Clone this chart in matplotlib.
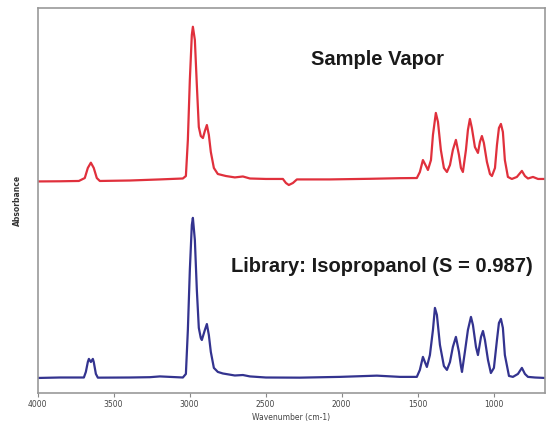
import matplotlib
matplotlib.use("Agg")
import matplotlib.pyplot as plt

# Sample vapor spectrum (red)
sample_wn = [4000, 3853, 3728, 3689, 3669, 3649, 3630, 3610, 3590, 3393,
             3195, 3044, 3024, 3011, 2998, 2985, 2978, 2965, 2952, 2939,
             2926, 2912, 2899, 2886, 2873, 2860, 2840, 2814, 2761, 2702,
             2649, 2603, 2498, 2386, 2366, 2347, 2320, 2294, 2077, 1814,
             1616, 1505, 1485, 1465, 1445, 1432, 1412, 1399, 1380, 1366,
             1347, 1327, 1307, 1287, 1268, 1248, 1228, 1215, 1202, 1182,
             1169, 1156, 1143, 1123, 1103, 1090, 1077, 1064, 1044, 1024,
             1011, 991, 978, 965, 952, 939, 926, 906, 880, 847,
             814, 794, 774, 741, 708, 662]
sample_abs = [-0.003, -0.002, 0, 0.019, 0.084, 0.118, 0.084, 0.019, 0, 0.003,
              0.010, 0.016, 0.032, 0.265, 0.652, 0.942, 0.995, 0.910, 0.619, 0.348,
              0.290, 0.277, 0.323, 0.361, 0.297, 0.187, 0.084, 0.045, 0.032, 0.023,
              0.029, 0.016, 0.013, 0.013, -0.013, -0.026, -0.013, 0.010, 0.010, 0.014,
              0.018, 0.019, 0.058, 0.135, 0.097, 0.071, 0.135, 0.297, 0.439, 0.381,
              0.200, 0.084, 0.058, 0.103, 0.200, 0.265, 0.168, 0.084, 0.058, 0.200,
              0.329, 0.400, 0.342, 0.219, 0.181, 0.252, 0.290, 0.245, 0.123, 0.045,
              0.032, 0.084, 0.232, 0.342, 0.368, 0.316, 0.135, 0.026, 0.013, 0.026,
              0.065, 0.032, 0.016, 0.026, 0.013, 0.013]

# Library spectrum: isopropanol (blue)
library_wn = [4000, 3853, 3695, 3682, 3669, 3662, 3649, 3636, 3630, 3616,
              3603, 3393, 3261, 3195, 3044, 3024, 3011, 2998, 2985, 2978,
              2965, 2952, 2939, 2926, 2919, 2899, 2886, 2873, 2860, 2840,
              2814, 2781, 2702, 2649, 2603, 2498, 2274, 2011, 1768, 1616,
              1505, 1485, 1465, 1452, 1439, 1419, 1399, 1386, 1373, 1353,
              1327, 1307, 1287, 1268, 1248, 1228, 1215, 1208, 1189, 1169,
              1149, 1136, 1116, 1103, 1083, 1070, 1057, 1037, 1018, 998,
              978, 965, 952, 939, 926, 899, 873, 840, 814, 794,
              774, 728, 662]
library_abs = [-0.002, 0.001, 0.001, 0.037, 0.101, 0.121, 0.101, 0.121, 0.101, 0.024,
               0, 0.001, 0.003, 0.008, 0.001, 0.024, 0.308, 0.695, 0.985, 1.031,
               0.888, 0.566, 0.321, 0.256, 0.243, 0.308, 0.346, 0.275, 0.166, 0.063,
               0.037, 0.027, 0.014, 0.017, 0.008, 0.001, 0, 0.005, 0.013, 0.005,
               0.005, 0.050, 0.134, 0.101, 0.069, 0.146, 0.308, 0.450, 0.405, 0.211,
               0.075, 0.050, 0.101, 0.198, 0.263, 0.166, 0.075, 0.037, 0.166, 0.308,
               0.392, 0.340, 0.198, 0.146, 0.263, 0.301, 0.243, 0.114, 0.030, 0.063,
               0.243, 0.353, 0.379, 0.321, 0.146, 0.011, 0.005, 0.024, 0.063, 0.024,
               0.005, 0.001, -0.002]

x_ticks = [4000, 3500, 3000, 2500, 2000, 1500, 1000]
sample_label = "Sample Vapor"
library_label = "Library: Isopropanol (S = 0.987)"

stack_offset = 1.269

fig = plt.figure(figsize=(5.47, 4.30), dpi=100)
ax = fig.add_axes([37.5 / 547, 1 - 393 / 430, (545 - 37.5) / 547, (393 - 8) / 430])

ax.plot(sample_wn, [v + stack_offset for v in sample_abs], color="#e0303c", lw=1.6,
        solid_joinstyle="round")
ax.plot(library_wn, library_abs, color="#33338f", lw=1.6, solid_joinstyle="round")

ax.set_xlim(4000, 662)
ax.set_ylim(-0.099, 2.385)
ax.set_xticks(x_ticks)
ax.set_xticklabels([str(t) for t in x_ticks])
ax.set_yticks([])
ax.tick_params(axis="x", direction="out", length=3, width=0.8, color="#888888",
               labelsize=5.5, labelcolor="#444444", pad=2)
for s in ax.spines.values():
    s.set_color("#999999")
    s.set_linewidth(1.2)

ax.set_xlabel("Wavenumber (cm-1)", fontsize=5.5, color="#444444", labelpad=3)
ax.set_ylabel("Absorbance", fontsize=5.5, color="#333333", fontweight="bold", labelpad=11)

ax.text(0.669, 0.866, sample_label, transform=ax.transAxes, ha="center", va="center",
        fontsize=14.5, fontweight="bold", family="Liberation Sans", color="#1a1a1a")
ax.text(0.679, 0.329, library_label, transform=ax.transAxes, ha="center", va="center",
        fontsize=14.5, fontweight="bold", family="Liberation Sans", color="#1a1a1a")

fig.savefig("out.png", dpi=100)
